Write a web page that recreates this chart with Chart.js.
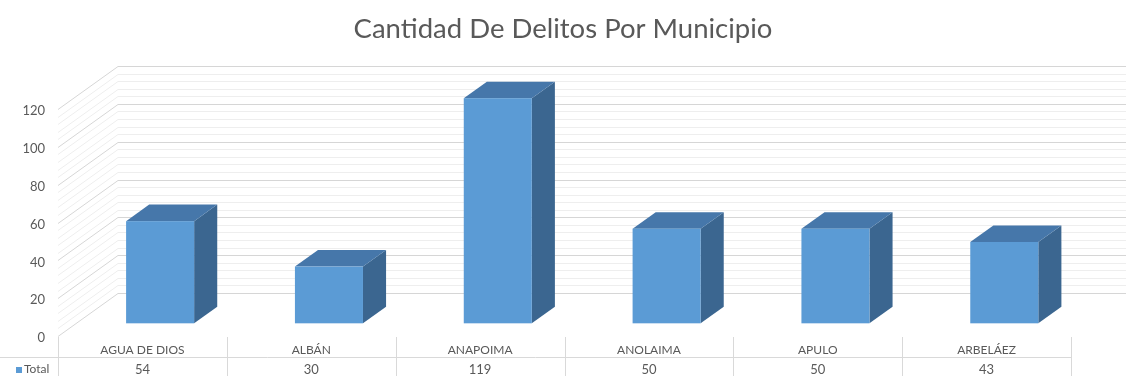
<!DOCTYPE html>
<html>
<head>
<meta charset="utf-8">
<script src="https://cdn.jsdelivr.net/npm/chart.js@4/dist/chart.umd.min.js"></script>
<style>
  html, body { margin: 0; padding: 0; background: #ffffff; }
  #wrap { width: 1126px; height: 376px; }
</style>
</head>
<body>
<div id="wrap"><canvas id="grafica"></canvas></div>
<script>
// Municipios y cantidad de delitos
var categorias = ['AGUA DE DIOS', 'ALBÁN', 'ANAPOIMA', 'ANOLAIMA', 'APULO', 'ARBELÁEZ'];
var totales = [54, 30, 119, 50, 50, 43];
var marcasEje = [0, 20, 40, 60, 80, 100, 120];
var nombreSerie = 'Total';

// profundidad de la vista 3D (pared del fondo y cajas)
var PROF_X = 60, PROF_Y = 43;
var CAJA_INI = 0.295, CAJA_FIN = 0.68;

var colorFrente = '#5b9bd5';
var colorTecho = '#4677aa';
var colorLado = '#3b6690';
var colorTexto = '#595959';
var colorLinea = '#d9d9d9';

var paredes = {
    id: 'paredes',
    beforeDatasetsDraw: function(chart) {
        var ctx = chart.ctx;
        var y = chart.scales.y;
        var izq = chart.chartArea.left;
        ctx.save();
        // lineas menores cada 4, mayores cada 20
        for (var v = 0; v <= 120; v += 4) {
            var py = Math.round(y.getPixelForValue(v)) + 0.5;
            ctx.strokeStyle = (v % 20 === 0) ? '#d6d6d6' : '#eeeeee';
            ctx.lineWidth = 1;
            ctx.beginPath();
            ctx.moveTo(izq, py);
            ctx.lineTo(izq + PROF_X, py - PROF_Y);
            ctx.lineTo(chart.width, py - PROF_Y);
            ctx.stroke();
        }
        ctx.restore();
    }
};

var cajas3d = {
    id: 'cajas3d',
    afterDatasetsDraw: function(chart) {
        var ctx = chart.ctx;
        var meta = chart.getDatasetMeta(0);
        var dx = (CAJA_FIN - CAJA_INI) * PROF_X;
        var dy = (CAJA_FIN - CAJA_INI) * PROF_Y;
        ctx.save();
        meta.data.forEach(function(barra) {
            var xl = barra.x - barra.width / 2 + CAJA_INI * PROF_X;
            var xr = barra.x + barra.width / 2 + CAJA_INI * PROF_X;
            var yt = barra.y - CAJA_INI * PROF_Y;
            var yb = barra.base - CAJA_INI * PROF_Y;

            ctx.fillStyle = colorLado;
            ctx.beginPath();
            ctx.moveTo(xr, yt);
            ctx.lineTo(xr + dx, yt - dy);
            ctx.lineTo(xr + dx, yb - dy);
            ctx.lineTo(xr, yb);
            ctx.closePath();
            ctx.fill();

            ctx.fillStyle = colorTecho;
            ctx.beginPath();
            ctx.moveTo(xl, yt);
            ctx.lineTo(xl + dx, yt - dy);
            ctx.lineTo(xr + dx, yt - dy);
            ctx.lineTo(xr, yt);
            ctx.closePath();
            ctx.fill();

            ctx.fillStyle = colorFrente;
            ctx.fillRect(xl, yt, xr - xl, yb - yt);
        });
        ctx.restore();
    }
};

// tabla de datos bajo el grafico
var tablaDatos = {
    id: 'tablaDatos',
    afterDraw: function(chart) {
        var ctx = chart.ctx;
        var x = chart.scales.x;
        var area = chart.chartArea;
        var ancho = (area.right - area.left) / categorias.length;
        var arriba = area.bottom + 1;
        var medio = area.bottom + 21.5;
        ctx.save();
        ctx.strokeStyle = colorLinea;
        ctx.lineWidth = 1;
        ctx.beginPath();
        ctx.moveTo(0, medio);
        ctx.lineTo(area.right, medio);
        for (var i = 0; i <= categorias.length; i++) {
            var lx = Math.round(area.left + i * ancho) + 0.5;
            ctx.moveTo(lx, arriba);
            ctx.lineTo(lx, chart.height);
        }
        ctx.stroke();

        ctx.fillStyle = colorTexto;
        ctx.textAlign = 'center';
        ctx.textBaseline = 'middle';
        categorias.forEach(function(c, i) {
            var cx = x.getPixelForValue(i);
            ctx.font = '12px Lato';
            ctx.fillText(c, cx, area.bottom + 14.5);
            ctx.font = '13px Lato';
            ctx.fillText(String(totales[i]), cx, area.bottom + 33.5);
        });

        ctx.fillStyle = colorFrente;
        ctx.fillRect(16, area.bottom + 31, 6, 6);
        ctx.fillStyle = colorTexto;
        ctx.textAlign = 'left';
        ctx.font = '12px Lato';
        ctx.fillText(nombreSerie, 24, area.bottom + 33.5);
        ctx.restore();
    }
};

var ctx = document.getElementById('grafica').getContext('2d');
var chart = new Chart(ctx, {
    type: 'bar',
    data: {
        labels: categorias,
        datasets: [{
            label: nombreSerie,
            data: totales,
            backgroundColor: 'rgba(0,0,0,0)',
            borderWidth: 0,
            categoryPercentage: 1,
            barPercentage: 0.403
        }]
    },
    options: {
        responsive: true,
        maintainAspectRatio: false,
        animation: false,
        layout: { padding: { top: 0, right: 0, bottom: 40, left: 0 } },
        plugins: {
            legend: { display: false },
            tooltip: { enabled: false },
            title: {
                display: true,
                text: 'Cantidad De Delitos Por Municipio',
                color: colorTexto,
                font: { family: 'Lato', size: 27.5, weight: 'normal', lineHeight: 1.2 },
                padding: { top: 13, bottom: 63 }
            }
        },
        scales: {
            x: { display: false },
            y: {
                min: 0,
                max: 120,
                afterFit: function(scale) { scale.width = 58; },
                afterBuildTicks: function(scale) {
                    scale.ticks = marcasEje.map(function(v) { return { value: v }; });
                },
                grid: { display: false, drawTicks: false },
                border: { display: false },
                ticks: { color: colorTexto, padding: 13, labelOffset: 2, font: { family: 'Lato', size: 13 } }
            },
            // margen derecho vacio donde sigue la pared del fondo
            margen: {
                position: 'right',
                min: 0,
                max: 120,
                afterFit: function(scale) { scale.width = 55; },
                grid: { display: false, drawTicks: false },
                border: { display: false },
                ticks: { display: false }
            }
        }
    },
    plugins: [paredes, cajas3d, tablaDatos]
});
</script>
</body>
</html>
